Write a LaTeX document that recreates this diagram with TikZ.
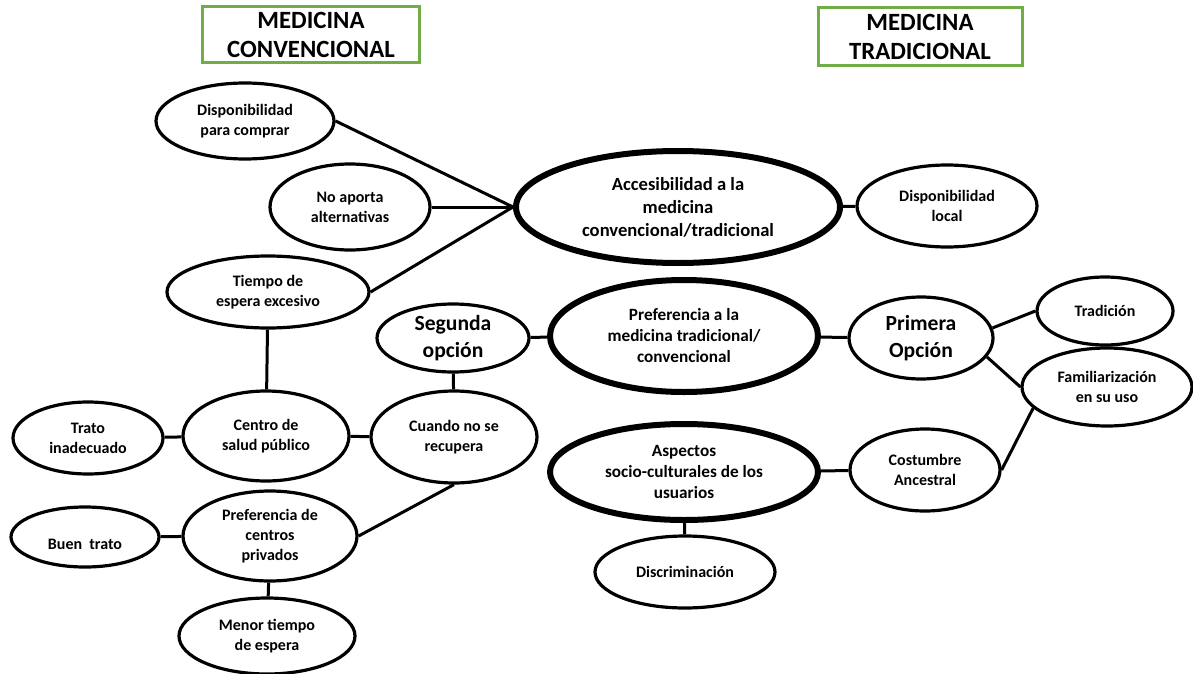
\documentclass[tikz,border=0pt]{standalone}
\usepackage{fontspec}
\setmainfont{Carlito}
\usetikzlibrary{shapes.geometric}
\definecolor{verde}{RGB}{112,173,71}

\begin{document}
\begin{tikzpicture}[x=0.5pt,y=-0.5pt,line width=1.5pt]
          \tikzstyle{idea}=[ellipse, draw, line width=1.6pt, inner sep=0pt, align=center, font=\bfseries\fontsize{8}{10}\selectfont]
          \tikzstyle{eje}=[idea, line width=3pt, font=\bfseries\fontsize{8.6}{10.5}\selectfont]
          \tikzstyle{titulo}=[draw=verde, line width=1.5pt, inner sep=0pt, align=center, font=\bfseries\fontsize{12.4}{14.5}\selectfont]
          \useasboundingbox (0,0) rectangle (1193,674);
          % titulos
          \node[titulo, minimum width=108.5pt, minimum height=28pt] (tconv) at (311,35) {MEDICINA\\CONVENCIONAL};
          \node[titulo, minimum width=102pt, minimum height=29pt] (ttrad) at (920,37) {MEDICINA\\TRADICIONAL};
          % ejes
          \node[eje, font=\bfseries\fontsize{9.3}{11.5}\selectfont, minimum width=162pt, minimum height=56pt] (acces) at (678,207) {Accesibilidad a la\\medicina\\convencional/tradicional};
          \node[eje, minimum width=134pt, minimum height=56pt] (pref) at (684,336) {Preferencia a la\\medicina tradicional/\\convencional};
          \node[eje, minimum width=134pt, minimum height=48pt] (aspectos) at (684,472) {Aspectos\\socio-culturales de los\\usuarios};
          % lado convencional
          \node[idea, minimum width=89pt, minimum height=38pt] (dispcomp) at (245,121) {Disponibilidad\\para comprar};
          \node[idea, minimum width=80pt, minimum height=43pt] (noaporta) at (350,207) {No aporta\\alternativas};
          \node[idea, minimum width=101pt, minimum height=36pt] (tiempo) at (268,292) {Tiempo de\\espera excesivo};
          \node[idea, font=\bfseries\fontsize{10.8}{13.5}\selectfont, minimum width=76pt, minimum height=34pt] (segunda) at (453,338) {Segunda\\opción};
          \node[idea, minimum width=75pt, minimum height=36pt] (trato) at (88,438) {Trato\\inadecuado};
          \node[idea, minimum width=83pt, minimum height=45pt] (centro) at (266,436) {Centro de\\salud público};
          \node[idea, minimum width=83pt, minimum height=46pt] (cuando) at (454,437) {Cuando no se\\recupera};
          \node[idea, minimum width=74pt, minimum height=30pt] (buen) at (85,537) {\raisebox{-3.5pt}[\height][\depth]{Buen\ \ trato}};
          \node[idea, minimum width=87pt, minimum height=45pt] (privados) at (270,536) {Preferencia de\\centros\\privados};
          \node[idea, minimum width=88pt, minimum height=38pt] (menor) at (267,636) {Menor tiempo\\de espera};
          % lado tradicional
          \node[idea, minimum width=90pt, minimum height=41pt] (displocal) at (947,206) {Disponibilidad\\local};
          \node[idea, font=\bfseries\fontsize{10.8}{13.5}\selectfont, minimum width=72pt, minimum height=41pt] (primera) at (921,338) {Primera\\Opción};
          \node[idea, minimum width=68pt, minimum height=34pt] (tradicion) at (1105,311) {Tradición};
          \node[idea, minimum width=85pt, minimum height=39pt] (famil) at (1107,387) {Familiarización\\en su uso};
          \node[idea, minimum width=75pt, minimum height=41pt] (costumbre) at (925,470) {Costumbre\\Ancestral};
          \node[idea, minimum width=90pt, minimum height=36pt] (discrim) at (685,572) {Discriminación};
          % conectores
          \draw (dispcomp.east) -- (acces.west);
          \draw (noaporta) -- (acces.west);
          \draw (tiempo.east) -- (acces.west);
          \draw (acces) -- (displocal);
          \draw (tiempo) -- (centro);
          \draw (segunda) -- (pref);
          \draw (segunda) -- (cuando);
          \draw (trato) -- (centro);
          \draw (centro) -- (cuando);
          \draw (cuando.south) -- (privados.east);
          \draw (buen) -- (privados);
          \draw (privados) -- (menor);
          \draw (pref) -- (primera);
          \draw (primera.8) -- (tradicion.west);
          \draw (primera.-16) -- (famil.west);
          \draw (costumbre.east) -- (famil.196);
          \draw (aspectos) -- (costumbre);
          \draw (aspectos) -- (discrim);
      \end{tikzpicture}
\end{document}
